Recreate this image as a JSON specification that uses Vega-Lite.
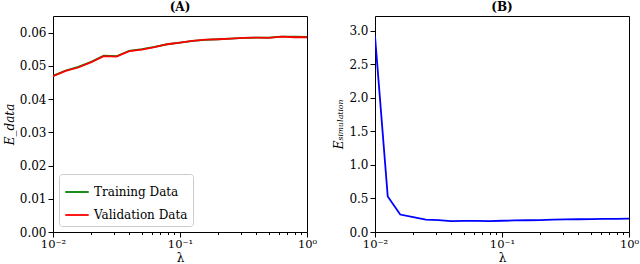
{
  "$schema": "https://vega.github.io/schema/vega-lite/v6.json",
  "padding": {"left": 2, "top": 0, "right": 0, "bottom": 0},
  "spacing": 14,
  "config": {
    "font": "DejaVu Serif",
    "view": {"stroke": "black", "strokeWidth": 1},
    "axis": {
      "labelFont": "DejaVu Serif", "labelFontSize": 12, "labelColor": "black",
      "titleFont": "DejaVu Serif", "titleFontSize": 12, "titleFontWeight": "normal", "titleFontStyle": "italic", "titleColor": "black",
      "tickColor": "black", "domain": false, "grid": false, "labelPadding": 2
    },
    "axisX": {"labelPadding": 1, "labelFontSize": 11.5, "titleY": 20, "titleBaseline": "top", "titleFontStyle": "normal"},
    "title": {"font": "DejaVu Serif", "fontSize": 12, "fontWeight": "bold", "offset": 2},
    "legend": {"labelFont": "DejaVu Serif", "labelFontSize": 12, "labelColor": "black"}
  },
  "hconcat": [
    {
      "title": "(A)",
      "width": 254,
      "height": 216,
      "data": {"values": [
        {"lambda": 0.01, "value": 0.0470, "series": "Training Data"},
        {"lambda": 0.0126, "value": 0.0486, "series": "Training Data"},
        {"lambda": 0.0158, "value": 0.0497, "series": "Training Data"},
        {"lambda": 0.02, "value": 0.0512, "series": "Training Data"},
        {"lambda": 0.0251, "value": 0.0531, "series": "Training Data"},
        {"lambda": 0.0316, "value": 0.0529, "series": "Training Data"},
        {"lambda": 0.0398, "value": 0.0545, "series": "Training Data"},
        {"lambda": 0.0501, "value": 0.0550, "series": "Training Data"},
        {"lambda": 0.0631, "value": 0.0557, "series": "Training Data"},
        {"lambda": 0.0794, "value": 0.0565, "series": "Training Data"},
        {"lambda": 0.1, "value": 0.0570, "series": "Training Data"},
        {"lambda": 0.1259, "value": 0.0575, "series": "Training Data"},
        {"lambda": 0.1585, "value": 0.0578, "series": "Training Data"},
        {"lambda": 0.1995, "value": 0.0580, "series": "Training Data"},
        {"lambda": 0.2512, "value": 0.0582, "series": "Training Data"},
        {"lambda": 0.3162, "value": 0.0584, "series": "Training Data"},
        {"lambda": 0.3981, "value": 0.0585, "series": "Training Data"},
        {"lambda": 0.5012, "value": 0.0585, "series": "Training Data"},
        {"lambda": 0.631, "value": 0.0588, "series": "Training Data"},
        {"lambda": 0.7943, "value": 0.0588, "series": "Training Data"},
        {"lambda": 1.0, "value": 0.0587, "series": "Training Data"},
        {"lambda": 0.01, "value": 0.0469, "series": "Validation Data"},
        {"lambda": 0.0126, "value": 0.0485, "series": "Validation Data"},
        {"lambda": 0.0158, "value": 0.0495, "series": "Validation Data"},
        {"lambda": 0.02, "value": 0.0511, "series": "Validation Data"},
        {"lambda": 0.0251, "value": 0.0529, "series": "Validation Data"},
        {"lambda": 0.0316, "value": 0.0528, "series": "Validation Data"},
        {"lambda": 0.0398, "value": 0.0544, "series": "Validation Data"},
        {"lambda": 0.0501, "value": 0.0549, "series": "Validation Data"},
        {"lambda": 0.0631, "value": 0.0556, "series": "Validation Data"},
        {"lambda": 0.0794, "value": 0.0565, "series": "Validation Data"},
        {"lambda": 0.1, "value": 0.0570, "series": "Validation Data"},
        {"lambda": 0.1259, "value": 0.0575, "series": "Validation Data"},
        {"lambda": 0.1585, "value": 0.0579, "series": "Validation Data"},
        {"lambda": 0.1995, "value": 0.0580, "series": "Validation Data"},
        {"lambda": 0.2512, "value": 0.0582, "series": "Validation Data"},
        {"lambda": 0.3162, "value": 0.0584, "series": "Validation Data"},
        {"lambda": 0.3981, "value": 0.0585, "series": "Validation Data"},
        {"lambda": 0.5012, "value": 0.0584, "series": "Validation Data"},
        {"lambda": 0.631, "value": 0.0588, "series": "Validation Data"},
        {"lambda": 0.7943, "value": 0.0586, "series": "Validation Data"},
        {"lambda": 1.0, "value": 0.0586, "series": "Validation Data"}
      ]},
      "mark": {"type": "line", "strokeWidth": 1.8, "clip": true},
      "encoding": {
        "x": {"field": "lambda", "type": "quantitative",
          "scale": {"type": "log", "domain": [0.01, 1], "nice": false},
          "axis": {"title": "λ", "labelFlush": false,
            "values": [0.01,0.02,0.03,0.04,0.05,0.06,0.07,0.08,0.09,0.1,0.2,0.3,0.4,0.5,0.6,0.7,0.8,0.9,1],
            "labelExpr": "datum.value == 0.01 ? '10⁻²' : datum.value == 0.1 ? '10⁻¹' : datum.value == 1 ? '10⁰' : ''",
            "tickSize": {"expr": "datum.value == 0.01 || datum.value == 0.1 || datum.value == 1 ? 5 : 2.5"}}},
        "y": {"field": "value", "type": "quantitative",
          "scale": {"domain": [0, 0.065], "nice": false},
          "axis": {"title": "E_data", "format": ".2f", "values": [0,0.01,0.02,0.03,0.04,0.05,0.06], "tickSize": 5, "titlePadding": 3}},
        "color": {"field": "series", "type": "nominal",
          "scale": {"domain": ["Training Data", "Validation Data"], "range": ["#008000", "#ff0000"]},
          "legend": {"title": null, "orient": "bottom-left", "offset": 6, "symbolType": "stroke", "symbolSize": 550, "symbolStrokeWidth": 1.8,
            "fillColor": "white", "strokeColor": "#cccccc", "cornerRadius": 3, "padding": 5, "rowPadding": 4}}
      }
    },
    {
      "title": "(B)",
      "width": 254,
      "height": 216,
      "data": {"values": [
        {"lambda": 0.01, "value": 2.92},
        {"lambda": 0.0126, "value": 0.53},
        {"lambda": 0.0158, "value": 0.26},
        {"lambda": 0.02, "value": 0.22},
        {"lambda": 0.0251, "value": 0.185},
        {"lambda": 0.0316, "value": 0.178},
        {"lambda": 0.0398, "value": 0.163},
        {"lambda": 0.0501, "value": 0.165},
        {"lambda": 0.0631, "value": 0.167},
        {"lambda": 0.0794, "value": 0.162},
        {"lambda": 0.1, "value": 0.168},
        {"lambda": 0.1259, "value": 0.172},
        {"lambda": 0.1585, "value": 0.175},
        {"lambda": 0.1995, "value": 0.178},
        {"lambda": 0.2512, "value": 0.183},
        {"lambda": 0.3162, "value": 0.187},
        {"lambda": 0.3981, "value": 0.19},
        {"lambda": 0.5012, "value": 0.193},
        {"lambda": 0.631, "value": 0.195},
        {"lambda": 0.7943, "value": 0.197},
        {"lambda": 1.0, "value": 0.198}
      ]},
      "mark": {"type": "line", "strokeWidth": 1.8, "color": "#0000ff", "clip": true},
      "encoding": {
        "x": {"field": "lambda", "type": "quantitative",
          "scale": {"type": "log", "domain": [0.01, 1], "nice": false},
          "axis": {"title": "λ", "labelFlush": false,
            "values": [0.01,0.02,0.03,0.04,0.05,0.06,0.07,0.08,0.09,0.1,0.2,0.3,0.4,0.5,0.6,0.7,0.8,0.9,1],
            "labelExpr": "datum.value == 0.01 ? '10⁻²' : datum.value == 0.1 ? '10⁻¹' : datum.value == 1 ? '10⁰' : ''",
            "tickSize": {"expr": "datum.value == 0.01 || datum.value == 0.1 || datum.value == 1 ? 5 : 2.5"}}},
        "y": {"field": "value", "type": "quantitative",
          "scale": {"domain": [0, 3.22], "nice": false},
          "axis": {"title": "Eₛᵢₘᵤₗₐₜᵢₒₙ", "format": ".1f", "values": [0,0.5,1,1.5,2,2.5,3], "tickSize": 5, "titlePadding": 3}}
      }
    }
  ]
}
